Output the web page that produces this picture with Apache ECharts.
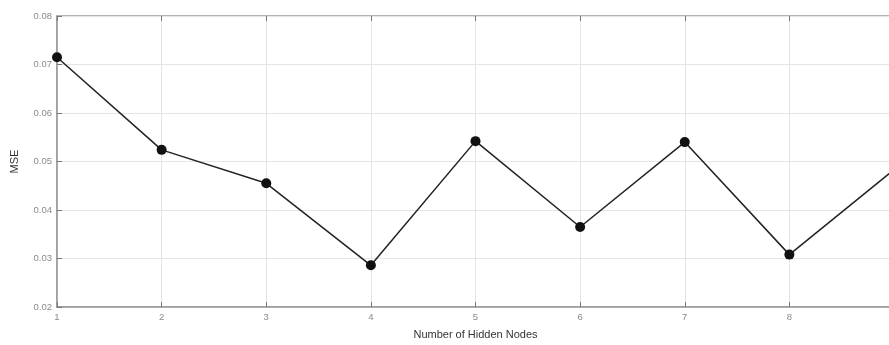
<!DOCTYPE html>
<html>
<head>
<meta charset="utf-8">
<script src="https://cdn.jsdelivr.net/npm/echarts@6/dist/echarts.min.js"></script>
<style>html,body{margin:0;padding:0;background:#fff}#c{width:889px;height:345px}</style>
</head>
<body>
<div id="c"></div>
<script>
const hiddenNodes = [1, 2, 3, 4, 5, 6, 7, 8, 9];
const mseValues = [0.0715, 0.0524, 0.0455, 0.0286, 0.0542, 0.0365, 0.0540, 0.0308, 0.0483];
const xTitle = 'Number of Hidden Nodes';
const yTitle = 'MSE';

const chart = echarts.init(document.getElementById('c'));
const labelStyle = { color: '#8a8a8a', fontSize: 9.5, fontFamily: 'Liberation Sans, Arial, sans-serif' };
chart.setOption({
  animation: false,
  backgroundColor: '#fff',
  grid: { left: 57, width: 837, top: 16, height: 291, outerBoundsMode: 'none', containLabel: false,
          show: true, borderColor: '#9a9a9a', borderWidth: 1.5 },
  xAxis: [{
    type: 'value', min: 1, max: 9, interval: 1,
    name: xTitle, nameLocation: 'middle', nameGap: 22,
    nameTextStyle: { color: '#333', fontSize: 11, fontFamily: 'Liberation Sans, Arial, sans-serif' },
    axisLine: { lineStyle: { color: '#9a9a9a', width: 1.5 } },
    axisTick: { inside: true, length: 5, lineStyle: { color: '#777' } },
    axisLabel: Object.assign({ margin: 5 }, labelStyle),
    splitLine: { show: true, lineStyle: { color: '#e4e4e4', width: 1 } }
  }, {
    type: 'value', min: 1, max: 9, interval: 1, position: 'top',
    axisLine: { show: false },
    axisTick: { inside: true, length: 5, lineStyle: { color: '#777' } },
    axisLabel: { show: false }, splitLine: { show: false }
  }],
  yAxis: [{
    type: 'value', min: 0.02, max: 0.08, interval: 0.01,
    name: yTitle, nameLocation: 'middle', nameGap: 37, nameRotate: 90,
    nameTextStyle: { color: '#333', fontSize: 11, fontFamily: 'Liberation Sans, Arial, sans-serif' },
    axisLine: { show: true, lineStyle: { color: '#9a9a9a', width: 1.5 } },
    axisTick: { show: true, inside: true, length: 5, lineStyle: { color: '#777' } },
    axisLabel: Object.assign({ margin: 5, formatter: v => v.toFixed(2) }, labelStyle),
    splitLine: { show: true, lineStyle: { color: '#e4e4e4', width: 1 } }
  }, {
    type: 'value', min: 0.02, max: 0.08, interval: 0.01, position: 'right',
    axisLine: { show: false },
    axisTick: { show: true, inside: true, length: 5, lineStyle: { color: '#777' } },
    axisLabel: { show: false }, splitLine: { show: false }
  }],
  series: [{
    type: 'line',
    data: hiddenNodes.map((x, i) => [x, mseValues[i]]),
    symbol: 'circle', symbolSize: 10,
    itemStyle: { color: '#111' },
    lineStyle: { color: '#222', width: 1.5 },
    clip: false
  }]
});
</script>
</body>
</html>
